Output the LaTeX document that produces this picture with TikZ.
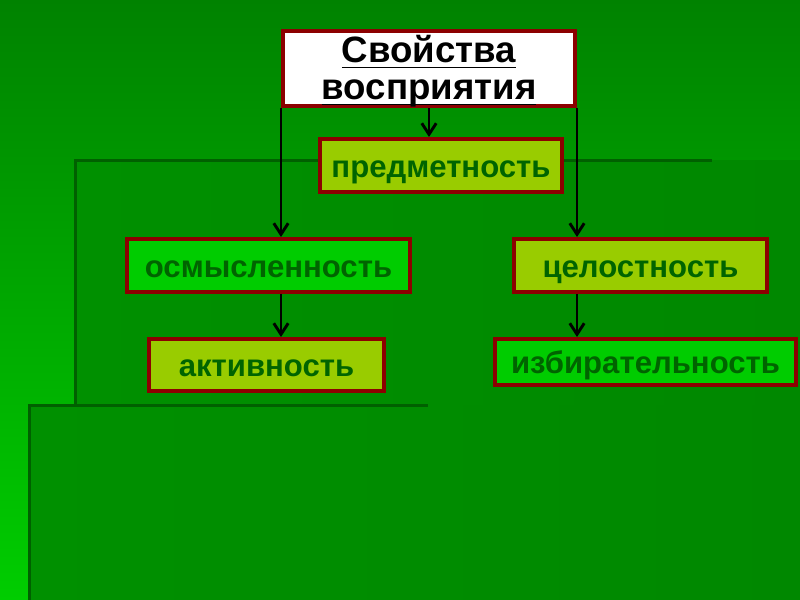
\documentclass[tikz,border=0pt]{standalone}
\usepackage{fontspec}
\setmainfont{Liberation Sans}
\usetikzlibrary{arrows.meta}
\definecolor{bgtop}{RGB}{0,130,0}
\definecolor{bgbottom}{RGB}{0,205,0}
\definecolor{panel}{RGB}{0,136,0}
\definecolor{panellight}{RGB}{0,144,0}
\definecolor{seam}{RGB}{0,96,0}
\definecolor{boxred}{RGB}{140,0,0}
\definecolor{olivefill}{RGB}{153,204,0}
\definecolor{limefill}{RGB}{0,204,0}
\definecolor{textgreen}{RGB}{0,100,0}
\newcommand\titleline[1]{\underline{\raisebox{0pt}[\height][2.5pt]{#1}}}
\begin{document}
\begin{tikzpicture}[x=0.9pt, y=-0.9pt,
          box/.style = {draw=boxred, line width=3.6pt, inner sep=2pt, text height=24pt, text depth=3pt,
            font=\bfseries\fontsize{28}{32}\selectfont, text=textgreen},
          olive/.style = {box, fill=olivefill},
          lime/.style = {box, fill=limefill},
          arr/.style = {line width=2.6pt, -{Straight Barb[length=10pt,width=13pt]}}]
          \useasboundingbox (0,0) rectangle (800,600);
          % background of the slide
          \shade[top color=bgtop, bottom color=bgbottom] (0,0) rectangle (800,600);
          \shade[left color=panellight, right color=panel] (75,160) rectangle (800,405);
          \shade[left color=panellight, right color=panel] (29,405) rectangle (800,600);
          \draw[seam, line width=2.7pt] (75,405) -- (75,160) -- (712,160);
          \draw[seam, line width=2.7pt] (29,600) -- (29,405) -- (428,405);
          % boxes
          \node[draw=boxred, line width=3.6pt, fill=white, inner ysep=0pt,
            font=\bfseries\fontsize{33}{33.5}\selectfont,
            minimum width=262.8pt, minimum height=65.7pt] (title) at (429,68.5)
            {\raisebox{-4pt}[\height][\depth]{\begin{tabular}{@{}c@{}}\titleline{Свойства}\\\titleline{восприятия}\end{tabular}}};
          \node[olive, minimum width=217.8pt, minimum height=47.7pt] (predm) at (441,165.5) {предметность};
          \node[lime, minimum width=254.7pt, minimum height=47.7pt] (osm) at (268.5,265.5) {осмысленность};
          \node[olive, minimum width=227.7pt, minimum height=47.7pt] (tsel) at (640.5,265.5) {целостность};
          \node[olive, minimum width=211.5pt, minimum height=46.8pt] (aktiv) at (266.5,365) {активность};
          \node[lime, minimum width=270.9pt, minimum height=41.4pt] (izbir) at (645.5,362) {избирательность};
          % arrows
          \draw[arr] (title.south) -- (title.south |- predm.north);
          \draw[arr] (title.south west) -- (title.south west |- osm.north);
          \draw[arr] (title.south east) -- (title.south east |- tsel.north);
          \draw[arr] (title.south west |- osm.south) -- (title.south west |- aktiv.north);
          \draw[arr] (title.south east |- tsel.south) -- (title.south east |- izbir.north);
        \end{tikzpicture}
\end{document}
